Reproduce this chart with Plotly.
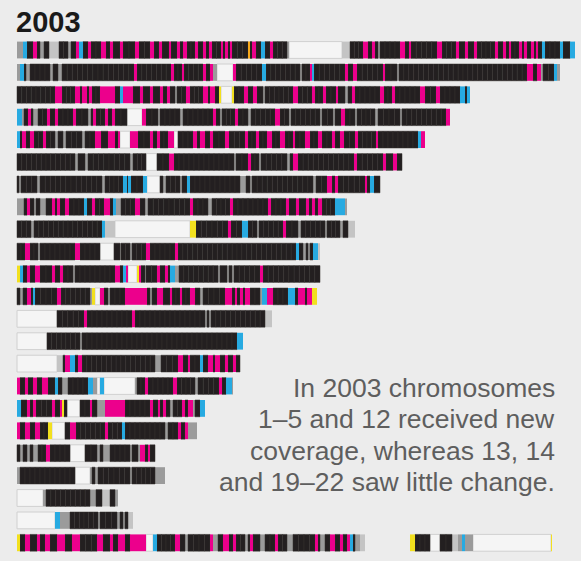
import plotly.graph_objects as go

# ---------------- data ----------------
CHROMOSOMES = [str(i) for i in range(1, 23)] + ["X", "Y"]
ROW_INDEX = list(range(22)) + [22, 22]
BAND_START = [17] * 23 + [410]
# each token: colour code + band end position (bands are contiguous)
BANDS = [
    # 1
    "g23 c27 k33 m37 k40 g44 k49 l59 k68 g71 k76 m79 c83 k88 m91 k101 m106 k110 m113 k120 m123 k135 m139 k150 m154 k159 m162 k169 m171 k177 m180 k183 m187 k195 m198 k203 m206 k209 m212 k221 m223 k225 m228 k230 m232 k248 o250 k252 m256 k261 c265 k270 m273 k287 g289 w342 l350 k363 m368 k372 m375 k378 g380 k400 m405 k409 m411 k437 m442 k456 m459 k465 m468 k474 m477 k495 m498 k503 m506 k509 m511 k519 m522 k524 m527 k531 m534 k536 m538 k542 c545 k560 c563 k570 c575",
    # 2
    "g20 c24 k26 g30 k50 g53 k58 g62 k134 m137 k171 m174 k182 m184 k203 m206 k210 m213 g217 w233 m236 k262 c266 k300 g302 k310 m312 c314 k345 m348 k353 m357 k383 m385 k397 g399 k527 m533 k537 m541 g543 k554 c557 g560",
    # 3
    "k55 m62 k75 m80 k82 m87 k89 m92 k100 m115 k120 c123 m133 k140 m143 k150 m153 k160 m163 k167 m170 k175 g177 k186 m190 k203 m208 k210 m215 k219 y221 w232 y234 k244 m248 k253 m257 k263 g265 k293 m298 k312 m315 k323 m326 k336 m338 k345 g348 k352 m355 k380 m384 k392 m395 k420 m425 k436 m440 k460 c465 k467 c470",
    # 4
    "c22 g24 k28 m31 k33 g38 k47 m50 k55 m58 k73 m76 k88 g91 k93 m96 k105 m108 k112 m115 k127 w142 m146 k158 g160 k180 g183 k213 m216 k220 g222 k235 m238 k248 g251 k275 m280 k289 g291 k320 g322 k333 g335 k341 m345 k355 g357 k375 g378 k400 g402 k446 m450",
    # 5
    "c20 k22 m26 k30 m34 k43 m46 k55 g58 k63 g66 k82 g85 k95 m101 k108 m115 k118 m120 w130 m138 k150 m153 k157 m160 k168 m174 w178 k193 m197 k200 m205 k210 m213 k225 m229 k245 m248 k256 m259 k267 m272 k280 m285 k293 m295 k305 m310 k318 m322 k332 m335 k340 m344 k355 m358 k376 m378 k418 c421 m425",
    # 6
    "k75 g78 k85 g88 k130 g133 k146 w157 k169 m174 k234 g236 k248 m251 k259 g261 k287 g290 k293 m298 k354 m357 k383 m386 k393 m397 k402",
    # 7
    "k19 g21 k37 g40 k102 g105 k123 c127 k128 c131 k143 c147 w160 k163 g166 k180 g182 k187 c190 k240 g246 k250 g252 k313 g316 k327 m332 k335 m338 k365 m367 k370 c374 k380",
    # 8
    "g24 k27 m30 k34 g36 k40 g46 k52 m55 k57 m60 k65 m69 k84 c87 k92 m95 k104 m110 k113 c116 g121 k135 m140 k145 g148 k190 m193 k208 g212 k230 m233 k268 m271 k286 m289 k296 m299 k306 m309 k312 m315 k318 m322 k335 c345 g347",
    # 9
    "k31 g34 k102 c105 l115 w190 y196 k228 m231 k242 c248 k257 g259 k283 m286 k298 g301 k325 g327 k340 g343 k348 l355",
    # 10
    "k25 m30 k38 g40 k75 m80 k100 w114 k120 g121 k130 g132 k146 m150 k175 m178 k296 c299 k303 g306 k308 g310 k313 c318 l320",
    # 11
    "y20 c23 k27 m30 k35 m40 k52 m55 k60 m63 k73 g75 k115 m120 k123 c126 m128 w137 y139 m141 k145 g146 k157 m160 k165 m168 k170 c175 g179 k218 g220 k227 g229 k232 g234 k260 m263 k320",
    # 12
    "k20 g23 k27 m31 k33 c35 k57 m61 k90 g92 y95 w100 m104 k108 g110 k125 m147 k150 g152 k157 m163 k170 m172 k180 m182 k190 m195 k200 g203 k225 m232 k235 m237 k240 m243 k245 m250 k260 g262 c267 m273 k288 c295 k298 m305 k307 m312 y317",
    # 13
    "w57 k84 m87 k132 m135 k205 g207 k209 g211 k265 l272",
    # 14
    "w47 k80 g82 k237 c243",
    # 15
    "w57 l63 k65 m70 c75 k78 m82 k155 g161 k178 m183 k188 m190 k200 c203 k208 m213 k215 m220 k225 m228 k233 m236 k240",
    # 16
    "m20 k25 m28 k33 m37 k42 m48 k55 c58 k62 g68 k88 c93 g97 w100 c104 w135 g137 k145 m148 k173 m177 k195 g198 k219 m222 k226 c232 g233",
    # 17
    "c21 k27 m30 k33 m36 k52 m55 k60 m62 y64 k67 w80 k90 m92 k97 g105 m125 k150 m153 k158 m160 k163 m166 k170 g173 k182 m185 k188 m193 g195 k200 c205",
    # 18
    "m20 k25 m30 k35 m40 k48 y52 w65 k70 m76 k105 m108 k122 c125 k165 g168 k178 m181 k185 m188 g197",
    # 19
    "k20 g23 k27 g30 k33 g38 k46 m50 k70 w85 k97 g100 k103 g110 k130 g132 k138 g140 m145 k148 m150 k155",
    # 20
    "g20 k75 w90 g92 k95 g98 k130 g132 k155 g165",
    # 21
    "w43 g46 k90 g96 k102 l110 k115 g118",
    # 22
    "w55 c60 g70 k98 g100 k117 g120 k123 g125 k128 l133",
    # X
    "y20 k25 m30 k37 m40 k45 m50 k57 m65 k72 m80 k97 m103 k110 m113 k118 m125 k130 m146 w153 c157 k175 m180 k185 g188 k210 m213 g218 k223 m229 k233 m236 k245 g248 k250 m253 k260 g265 k275 m278 k287 g293 k315 m318 k320 g325 k330 m335 k340 m343 k347 m350 c353 k355 g360 l365",
    # Y
    "y415 k430 w440 k452 l458 g462 c465 g473 w551 y552",
]

TITLE = "2003"
NOTE_LINES = [
    "In 2003 chromosomes",
    "1–5 and 12 received new",
    "coverage, whereas 13, 14",
    "and 19–22 saw little change.",
]

# ---------------- styles ----------------
COLORS = {
    "w": "#f5f5f5",
    "l": "#c4c4c4",
    "g": "#9b9b9b",
    "k": "#231f20",
    "m": "#ec008c",
    "c": "#27aae1",
    "y": "#f2e01e",
    "o": "#f7a81b",
}
LINES = {"w": ("#d0d0d0", 1), "k": ("#34302f", 0.5)}

segs = {code: {"y": [], "base": [], "x": []} for code in COLORS}
for row, start, bands in zip(ROW_INDEX, BAND_START, BANDS):
    pos = start
    for tok in bands.split():
        code, end = tok[0], float(tok[1:])
        if code == "k":
            n = max(1, round((end - pos) / 5))
            step = (end - pos) / n
            for j in range(n):
                segs[code]["y"].append(row)
                segs[code]["base"].append(pos + j * step)
                segs[code]["x"].append(step)
        else:
            segs[code]["y"].append(row)
            segs[code]["base"].append(pos)
            segs[code]["x"].append(end - pos)
        pos = end

fig = go.Figure()
for code in ["w", "l", "g", "k", "m", "c", "y", "o"]:
    d = segs[code]
    lc, lw = LINES.get(code, (COLORS[code], 0))
    fig.add_trace(go.Bar(
        orientation="h", y=d["y"], x=d["x"], base=d["base"],
        width=0.75, marker=dict(color=COLORS[code], line=dict(color=lc, width=lw)),
        hoverinfo="skip", showlegend=False,
    ))

W, H = 581, 561
fig.add_annotation(text="<b>%s</b>" % TITLE, x=14 / W, y=1 - 22 / H, xref="paper", yref="paper",
                   xanchor="left", yanchor="middle", showarrow=False,
                   font=dict(family="Liberation Sans, Arial", size=29, color="#1a1a1a"))
for i, line in enumerate(NOTE_LINES):
    fig.add_annotation(text=line, x=557 / W, y=1 - (388 + 31.3 * i) / H, xref="paper", yref="paper",
                       xanchor="right", yanchor="middle", showarrow=False,
                       font=dict(family="Liberation Sans, Arial", size=26.5, color="#5e5e5e"))

fig.update_layout(
    width=W, height=H, margin=dict(l=0, r=0, t=0, b=0),
    paper_bgcolor="#ececec", plot_bgcolor="#ececec",
    barmode="overlay",
    xaxis=dict(range=[0, W], visible=False, fixedrange=True),
    yaxis=dict(range=[(H - 50) / 22.4, -50 / 22.4], visible=False, fixedrange=True),
)
fig.write_html("out.html")
